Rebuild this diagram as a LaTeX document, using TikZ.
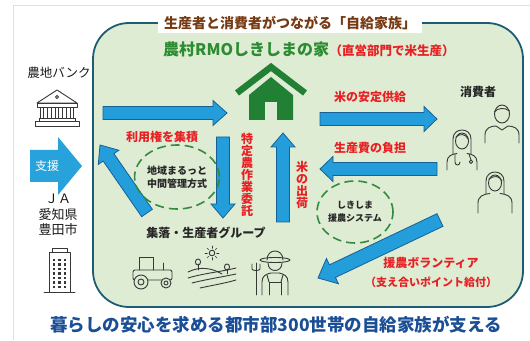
\documentclass[tikz,border=0pt]{standalone}
\usepackage{fontspec}
\newfontfamily\jp{Noto Sans CJK JP}
\usetikzlibrary{calc,positioning,shapes.geometric}
\definecolor{boxgreen}{RGB}{222,236,211}
\definecolor{boxedge}{RGB}{30,92,118}
\definecolor{arrowblue}{RGB}{36,158,218}
\definecolor{arrowedge}{RGB}{22,96,150}
\definecolor{supportblue}{RGB}{40,162,218}
\definecolor{labelred}{RGB}{232,32,36}
\definecolor{dashgreen}{RGB}{52,138,62}
\definecolor{housegreen}{RGB}{34,128,52}
\definecolor{rmogreen}{RGB}{44,140,50}
\definecolor{titlebrown}{RGB}{118,58,18}
\definecolor{slogblue}{RGB}{26,78,150}
\tikzset{
  jpfont/.style 2 args={font=\jp\bfseries\fontsize{#1}{#2}\selectfont},
  mainbox/.style={draw=boxedge, fill=boxgreen, line width=1.8pt, rounded corners=36pt},
  titlebox/.style={fill=white, text=titlebrown, jpfont={14}{14}, inner xsep=6pt, inner ysep=3pt},
  redlbl/.style={jpfont={12}{12}, text=labelred, inner sep=1pt},
  blklbl/.style={jpfont={12}{12}, text=black!85, inner sep=1pt},
  sidelbl/.style={font=\jp\fontsize{12.5}{15.5}\selectfont, text=black!90, inner sep=1pt, align=center},
  dashring/.style={ellipse, draw=dashgreen, line width=1.6pt, dash pattern=on 9pt off 5pt,
                   align=center, text=black!85, inner sep=0pt},
  blockarrow/.style={fill=arrowblue, draw=arrowedge, line width=0.8pt, line join=miter},
  icon/.style={draw=black!78, line width=0.9pt, line cap=round, line join=round},
}
% block arrow: [style]{from}{to}{half shaft}{half head}{head length}
\newcommand\blockarrow[6][]{%
  \path[blockarrow,#1] let \p1=($(#3)-(#2)$), \n1={atan2(\y1,\x1)}, \n2={veclen(\x1,\y1)-#6} in
    ($(#2)+({\n1+90}:#4)$) -- ++(\n1:\n2) -- ++({\n1+90}:{#5-#4}) -- (#3)
    -- ($(#2)+(\n1:\n2)+({\n1-90}:#5)$) -- ++({\n1+90}:{#5-#4}) -- ($(#2)+({\n1-90}:#4)$) -- cycle;}

\begin{document}
\begin{tikzpicture}[x=1pt, y=1pt]
\useasboundingbox (0,0) rectangle (530,340);
\draw[gray!25, line width=0.8pt] (13,0) -- (13,335) -- (530,335);

\draw[mainbox] (93,33) rectangle (523,317);
\node[titlebox] (title) at (290,317) {生産者と消費者がつながる「自給家族」};
\node[jpfont={16}{16}, text=rmogreen, anchor=base west, inner sep=0pt] (rmo) at (163,284) {農村RMOしきしまの家};
\node[jpfont={12.5}{12.5}, text=labelred, anchor=base west, inner sep=0pt] (rmonote) at (rmo.base east) {（直営部門で米生産）};

% house
\fill[housegreen] (249,220) -- (249,245) -- (271,263) -- (293,245) -- (293,220) -- cycle;
\fill[boxgreen] (265,220) rectangle (277,238);
\draw[housegreen, line width=6.5pt, line join=miter] (237,247) -- (271,273) -- (305,247);

% left side: bank, support, JA
\node[sidelbl] (bankname) at (59,267) {農地バンク};
\draw[icon] (37,237) -- (57,250) -- (77,237) -- cycle;
\draw[icon] (57,243) circle [radius=1.6];
\draw[icon] (37,233) rectangle (77,237);
\foreach \cx in {42,49.5,57,64.5,72}
  \draw[icon] (\cx-1.8,222) rectangle (\cx+1.8,233);
\draw[icon] (39,219) rectangle (75,222);
\draw[icon] (35,214) rectangle (79,219);

\coordinate (jaS) at (30,174); \coordinate (jaE) at (82,174);
\blockarrow[draw=none, fill=supportblue]{jaS}{jaE}{16}{29}{24}
\node[font=\jp\fontsize{12}{12}\selectfont, text=white] (support) at (47,174) {支援};
\node[sidelbl, font=\jp\fontsize{13}{15.5}\selectfont] (ja) at (58,125) {ＪＡ\\愛知県\\豊田市};

\draw[icon] (49,48) rectangle (70,88);
\draw[icon] (52,88) rectangle (67,92);
\draw[icon] (44,48) -- (75,48);
\foreach \wx in {54,59.5,65}
  \foreach \wy in {53,57.5,...,81}
    \fill[black!78] (\wx-1.2,\wy-1.2) rectangle (\wx+1.2,\wy+1.2);

% arrows
\coordinate (inS) at (103,227);   \coordinate (inE) at (227,227);
\coordinate (supS) at (320,221);  \coordinate (supE) at (437,221);
\coordinate (costS) at (437,171); \coordinate (costE) at (320,171);
\coordinate (shipS) at (283,118); \coordinate (shipE) at (283,207);
\coordinate (entS) at (223,203);  \coordinate (entE) at (223,122);
\coordinate (accS) at (147,127);  \coordinate (accE) at (100,195);
\coordinate (volS) at (440,120);  \coordinate (volE) at (318,62);
\blockarrow{inS}{inE}{6.5}{12.5}{14}
\blockarrow{supS}{supE}{6.5}{12.5}{13}
\blockarrow{costS}{costE}{6.5}{12.5}{13}
\blockarrow{shipS}{shipE}{6.5}{12}{14}
\blockarrow{entS}{entE}{6.5}{12}{14}
\blockarrow{accS}{accE}{6.5}{12.5}{15}
\blockarrow{volS}{volE}{7}{14}{16}

% labels
\node[redlbl] (supply) at (370,243) {米の安定供給};
\node[redlbl] (burden) at (370,192) {生産費の負担};
\node[redlbl] (accum) at (162,203) {利用権を集積};
\node[redlbl, align=center] (entrust) at (247,165) {特\\定\\農\\作\\業\\委\\託};
\node[redlbl, align=center] (ship) at (302,155) {米\\の\\出\\荷};
\node[redlbl, align=center] (volunteer) at (431,68)
  {援農ボランティア\\[7pt]{\fontsize{11}{11}\selectfont （支え合いポイント給付）}};

\node[dashring, jpfont={10}{13}, minimum width=74pt, minimum height=64pt] (mgmt) at (177,163) {地域まるっと\\中間管理方式};
\node[dashring, jpfont={9}{13}, minimum width=76pt, minimum height=62pt] (assist) at (355,128) {しきしま\\援農システム};

\node[blklbl] (village) at (206,107) {集落・生産者グループ};
\node[blklbl] (consumer) at (478,248) {消費者};

% tractor
\draw[icon] (139,70) -- (139,83) -- (153,83) -- (153,70);
\draw[icon, rounded corners=2pt] (133,60) rectangle (172,70);
\draw[icon] (163,70) -- (163,77);
\draw[icon, fill=boxgreen] (141,58) circle [radius=7];
\draw[icon] (141,58) circle [radius=3];
\draw[icon, fill=boxgreen] (166,57) circle [radius=5];
\draw[icon] (166,57) circle [radius=2];

% field
\draw[icon] (212,87) circle [radius=2.8];
\foreach \a in {0,45,...,315}
  \draw[icon, line width=0.6pt] (212,87) ++(\a:4.6) -- ++(\a:2.4);
\draw[icon] (188,68) .. controls (200,74) and (212,72) .. (222,66);
\draw[icon] (188,62) .. controls (205,67) and (220,68) .. (236,72);
\draw[icon] (192,57) .. controls (208,61) and (222,63) .. (236,66);
\draw[icon] (200,52) .. controls (214,55) and (226,57) .. (236,60);
\draw[icon] (198,70) -- (198,76);
\draw[icon] (198,78) ellipse [x radius=2.6, y radius=3];
\draw[icon] (227,66) -- (227,71);
\draw[icon] (227,73) ellipse [x radius=2.6, y radius=3];

% farmer
\draw[icon] (267,80) .. controls (267,92) and (283,92) .. (283,80);
\draw[icon] (275,80) ellipse [x radius=15, y radius=2.5];
\draw[icon] (268,77) .. controls (268,67) and (282,67) .. (282,77);
\draw[icon] (262,45) -- (262,58) .. controls (262,64) and (266,66) .. (271,67) -- (279,67)
  .. controls (284,66) and (288,64) .. (288,58) -- (288,45);
\draw[icon] (269,45) -- (269,58) -- (281,58) -- (281,45);
\draw[icon] (269,58) -- (267,65);
\draw[icon] (281,58) -- (283,65);
\draw[icon] (256,45) -- (256,70);
\draw[icon] (252,76) -- (252,71) .. controls (252,69) and (260,69) .. (260,71) -- (260,76);
\draw[icon] (256,70) -- (256,77);

% consumers
\draw[icon] (502,226) ellipse [x radius=7.5, y radius=9];
\draw[icon] (494.5,228) .. controls (497,232) and (505,233) .. (509.5,229);
\draw[icon] (485,197) -- (485,205) .. controls (485,212) and (491,214) .. (496,214) -- (502,210)
  -- (508,214) .. controls (513,214) and (519,212) .. (519,205) -- (519,197);

\draw[icon] (462,199) ellipse [x radius=6.5, y radius=8];
\draw[icon] (453,186) -- (453,201) .. controls (453,213) and (471,213) .. (471,201) -- (471,186);
\draw[icon] (456,203) .. controls (460,207) and (466,206) .. (468,201);
\draw[icon] (447,170) -- (447,178) .. controls (447,184) and (452,186) .. (457,186.5);
\draw[icon] (467,186.5) .. controls (472,186) and (477,184) .. (477,178) -- (477,170);
\draw[icon] (455,186) -- (455,178) .. controls (455,174) and (460,174) .. (460,178);
\draw[icon] (469,186) -- (471,180);
\draw[icon] (471,178.2) circle [radius=1.8];

\draw[icon] (495,157) ellipse [x radius=6.5, y radius=8];
\draw[icon] (486,146) -- (486,159) .. controls (486,171) and (504,171) .. (504,159) -- (504,146);
\draw[icon] (489,161) .. controls (494,165) and (500,164) .. (502,159);
\draw[icon] (478,127) -- (478,137) .. controls (478,144) and (484,146) .. (490,146.5);
\draw[icon] (500,146.5) .. controls (506,146) and (512,144) .. (512,137) -- (512,127);

\node[jpfont={17.5}{17.5}, text=slogblue] (slogan) at (276,15) {暮らしの安心を求める都市部300世帯の自給家族が支える};
\end{tikzpicture}
\end{document}
